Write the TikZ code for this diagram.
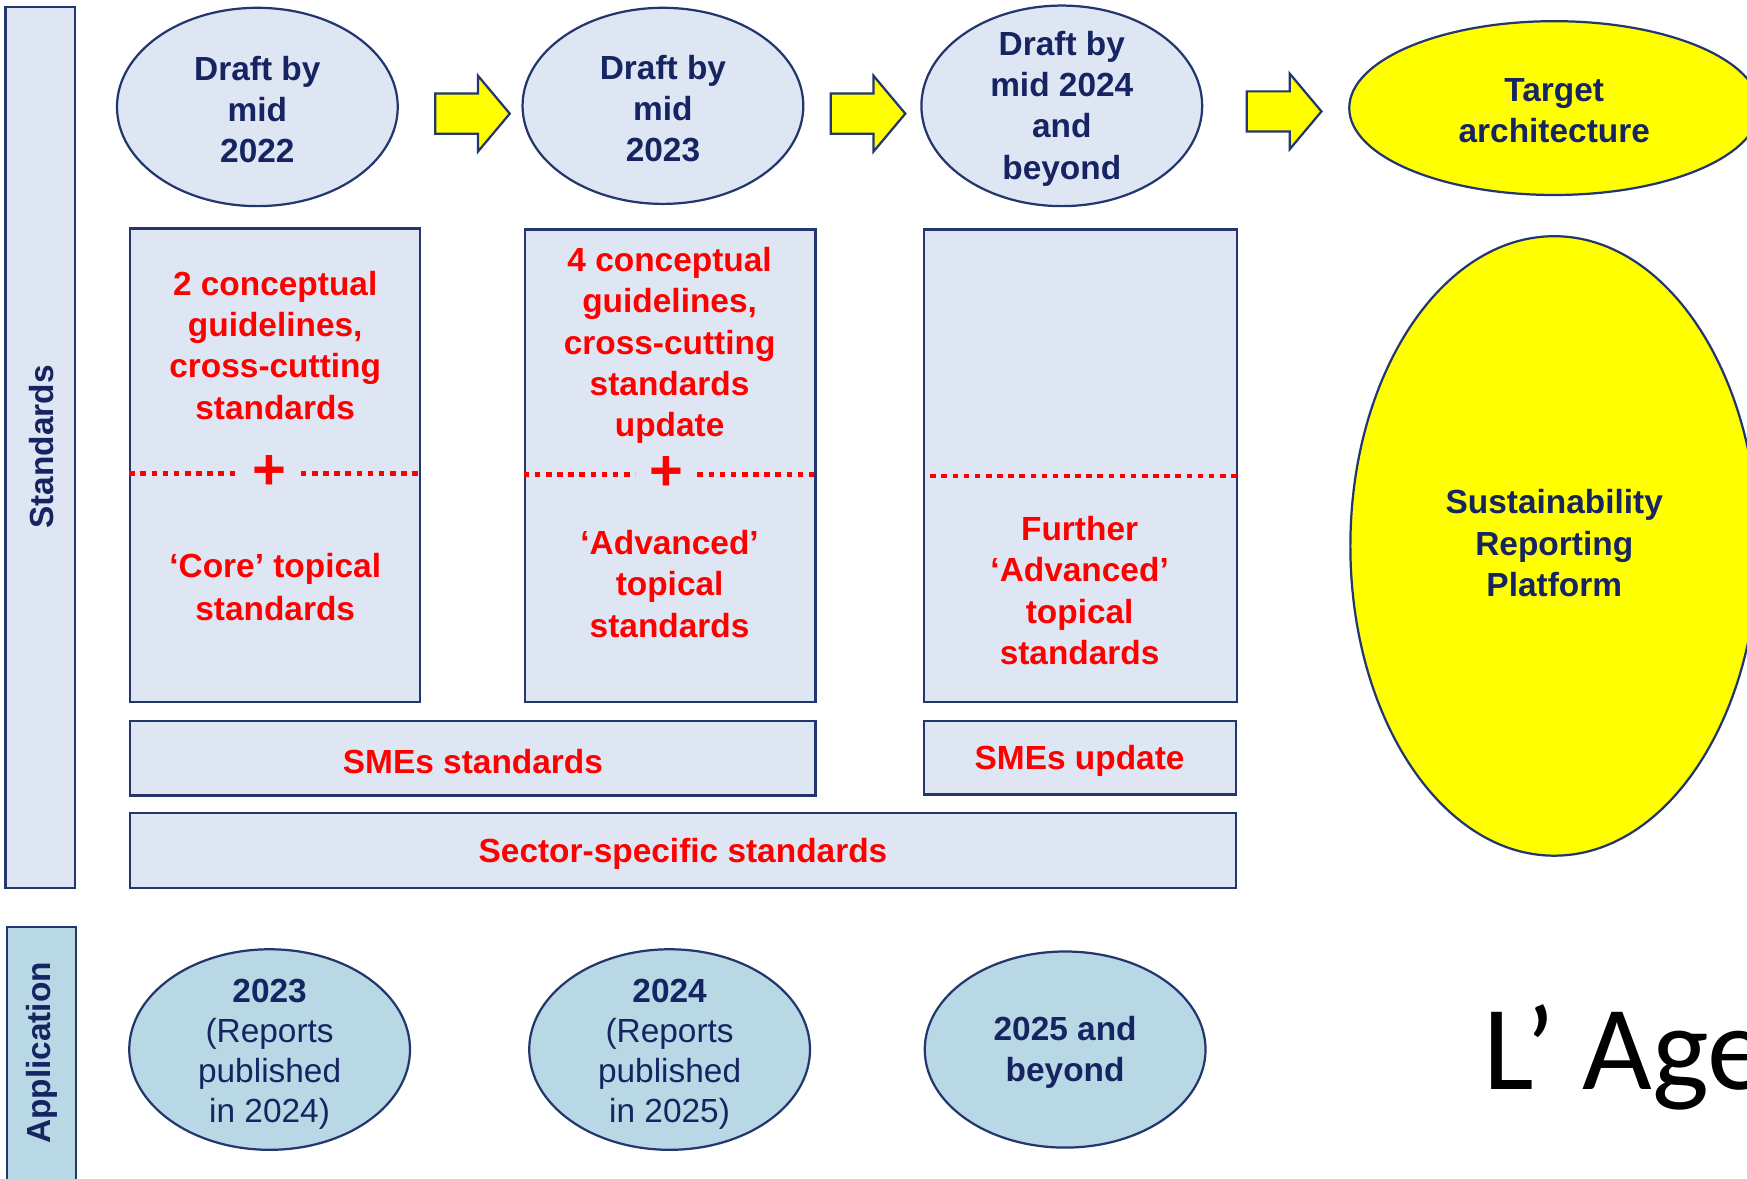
\documentclass[tikz,border=0pt]{standalone}
\usepackage{fontspec}
\setmainfont{Liberation Sans}
\newfontfamily\calib{Carlito}
\usetikzlibrary{shapes.geometric,shapes.arrows}
\definecolor{navy}{RGB}{22,36,98}
\definecolor{edge}{RGB}{35,55,110}
\definecolor{pale}{RGB}{221,230,242}
\definecolor{appl}{RGB}{184,216,230}
\definecolor{yel}{RGB}{255,255,0}
\definecolor{redt}{RGB}{255,0,0}
\tikzset{
  panel/.style={rectangle, draw=edge, line width=2pt, fill=pale, inner sep=0pt},
  bubble/.style={ellipse, draw=edge, line width=2pt, fill=pale, inner sep=0pt},
  ybubble/.style={bubble, fill=yel},
  abubble/.style={bubble, fill=appl},
  sidelbl/.style={font=\bfseries\fontsize{30}{37}\selectfont, text=navy, align=center, inner sep=0pt},
  lbl/.style={sidelbl, yshift=-2.5pt},
  albl/.style={font=\fontsize{30}{36}\selectfont, text=navy, align=center, inner sep=0pt, yshift=-4pt},
  rtxt/.style={font=\bfseries\fontsize{30}{37}\selectfont, text=redt, align=center, inner sep=0pt, yshift=-3pt},
  plusmark/.style={font=\bfseries\fontsize{52}{52}\selectfont, text=redt, inner sep=0pt},
  blockarrow/.style={single arrow, draw=edge, line width=2pt, fill=yel, inner sep=17pt,
    minimum height=67pt, single arrow head extend=16pt, single arrow tip angle=100},
  divider/.style={draw=redt, line width=4pt, dash pattern=on 5pt off 5pt}
}
\begin{document}
\begin{tikzpicture}[x=1pt,y=-1pt]
\useasboundingbox (0,0) rectangle (1568,1058);
\fill[white] (0,0) rectangle (1568,1058);

% side bars
\node[panel, minimum width=62pt, minimum height=791pt] (stdbar) at (36,401.5) {};
\node[sidelbl, rotate=90] (stdlbl) at (37,401) {Standards};
\node[panel, fill=appl, minimum width=62pt, minimum height=230pt] (appbar) at (37,947) {};
\node[sidelbl, rotate=90] (applbl) at (38,945) {Application};

% top ellipses
\node[bubble, minimum width=252pt, minimum height=178pt] (e1) at (231,96) {};
\node[lbl] (e1t) at (e1.center) {Draft by\\mid\\2022};
\node[bubble, minimum width=252pt, minimum height=176pt] (e2) at (595,95) {};
\node[lbl] (e2t) at (e2.center) {Draft by\\mid\\2023};
\node[bubble, minimum width=252pt, minimum height=180pt] (e3) at (953,95) {};
\node[lbl] (e3t) at (e3.center) {Draft by\\mid 2024\\and\\beyond};
\node[ybubble, minimum width=368pt, minimum height=156pt] (tgt) at (1395,97) {};
\node[lbl] (tgtt) at (tgt.center) {Target\\architecture};

% block arrows
\node[blockarrow] (a1) at (416.5,102) {};
\node[blockarrow] (a2) at (771.5,102) {};
\node[blockarrow] (a3) at (1145,100) {};

% standard boxes
\node[panel, minimum width=260pt, minimum height=425pt] (b1) at (247,417.5) {};
\node[panel, minimum width=261pt, minimum height=424pt] (b2) at (601.5,418) {};
\node[panel, minimum width=281pt, minimum height=424pt] (b3) at (969.5,418) {};

\node[rtxt] (b1t) at (247,307) {2 conceptual\\guidelines,\\cross-cutting\\standards};
\node[rtxt, font=\bfseries\fontsize{30}{39}\selectfont] (b1b) at (247,524) {‘Core’ topical\\standards};
\node[rtxt] (b2t) at (601,307) {4 conceptual\\guidelines,\\cross-cutting\\standards\\update};
\node[rtxt] (b2b) at (601,521) {‘Advanced’\\topical\\standards};
\node[rtxt] (b3b) at (969,527) {Further\\‘Advanced’\\topical\\standards};

\node[plusmark] (p1) at (242,424) {+};
\node[plusmark] (p2) at (598,425) {+};
\draw[divider] (b1.west |- 0,425) -- (215,425);
\draw[divider] (270,425) -- (b1.east |- 0,425);
\draw[divider] (b2.west |- 0,426) -- (570,426);
\draw[divider] (626,426) -- (b2.east |- 0,426);
\draw[divider] (835,427) -- (b3.east |- 0,427);

% wide boxes
\node[panel, minimum width=615pt, minimum height=67pt] (sme) at (424.5,680.5) {};
\node[rtxt] (smet) at (sme.center) {SMEs standards};
\node[panel, minimum width=280pt, minimum height=66pt] (smeu) at (969,680) {};
\node[rtxt] (smeut) at (smeu.center) {SMEs update};
\node[panel, minimum width=992pt, minimum height=67pt] (sect) at (613,763.5) {};
\node[rtxt] (sectt) at (sect.center) {Sector-specific standards};

% platform
\node[ybubble, minimum width=366pt, minimum height=556pt] (srp) at (1395,490) {};
\node[lbl] (srpt) at (1395,485) {Sustainability\\Reporting\\Platform};

% application ellipses
\node[abubble, minimum width=252pt, minimum height=180pt] (ap1) at (242,942) {};
\node[albl] (ap1t) at (ap1.center) {\textbf{2023}\\(Reports\\published\\in 2024)};
\node[abubble, minimum width=252pt, minimum height=180pt] (ap2) at (601,942) {};
\node[albl] (ap2t) at (ap2.center) {\textbf{2024}\\(Reports\\published\\in 2025)};
\node[abubble, minimum width=252pt, minimum height=176pt] (ap3) at (956,942) {};
\node[lbl] (ap3t) at (ap3.center) {2025 and\\beyond};

% cut-off title (cut by the page edge as in the reference)
\node[anchor=base west, inner sep=0pt, font=\calib\fontsize{108}{108}\selectfont, text=black] (title) at (1331,978) {L’ Age};
\end{tikzpicture}
\end{document}
